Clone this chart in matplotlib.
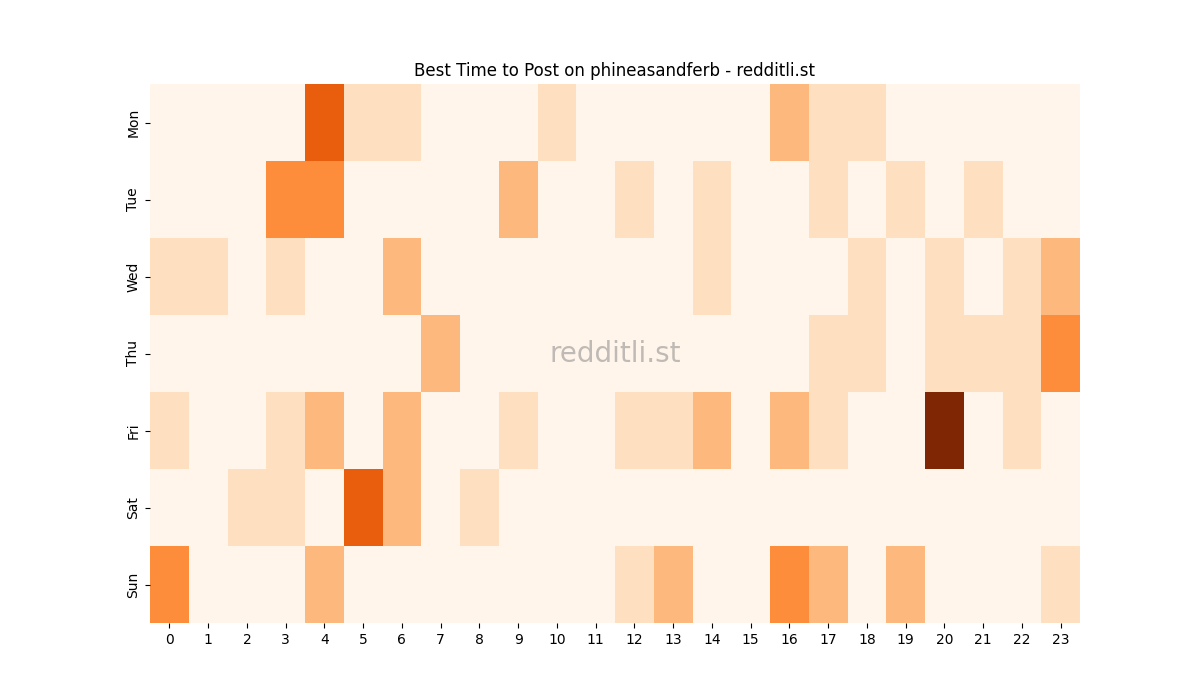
import matplotlib
matplotlib.use('Agg')
import matplotlib.pyplot as plt
import seaborn as sns
import pandas as pd

days = ['Mon', 'Tue', 'Wed', 'Thu', 'Fri', 'Sat', 'Sun']
hours = list(range(24))

# posts per hour, one row per weekday
mon = [0, 0, 0, 0, 4, 1, 1, 0, 0, 0, 1, 0, 0, 0, 0, 0, 2, 1, 1, 0, 0, 0, 0, 0]
tue = [0, 0, 0, 3, 3, 0, 0, 0, 0, 2, 0, 0, 1, 0, 1, 0, 0, 1, 0, 1, 0, 1, 0, 0]
wed = [1, 1, 0, 1, 0, 0, 2, 0, 0, 0, 0, 0, 0, 0, 1, 0, 0, 0, 1, 0, 1, 0, 1, 2]
thu = [0, 0, 0, 0, 0, 0, 0, 2, 0, 0, 0, 0, 0, 0, 0, 0, 0, 1, 1, 0, 1, 1, 1, 3]
fri = [1, 0, 0, 1, 2, 0, 2, 0, 0, 1, 0, 0, 1, 1, 2, 0, 2, 1, 0, 0, 6, 0, 1, 0]
sat = [0, 0, 1, 1, 0, 4, 2, 0, 1, 0, 0, 0, 0, 0, 0, 0, 0, 0, 0, 0, 0, 0, 0, 0]
sun = [3, 0, 0, 0, 2, 0, 0, 0, 0, 0, 0, 0, 1, 2, 0, 0, 3, 2, 0, 2, 0, 0, 0, 1]

df = pd.DataFrame([mon, tue, wed, thu, fri, sat, sun], index=days, columns=hours)

fig, ax = plt.subplots(figsize=(12, 7), dpi=100)
sns.heatmap(df, cmap='Oranges', cbar=False, ax=ax)
ax.set_title('Best Time to Post on phineasandferb - redditli.st')
ax.text(0.5, 0.5, 'redditli.st', transform=ax.transAxes, fontsize=20,
        color='gray', alpha=0.5, ha='center', va='center')

plt.savefig('out.png')
